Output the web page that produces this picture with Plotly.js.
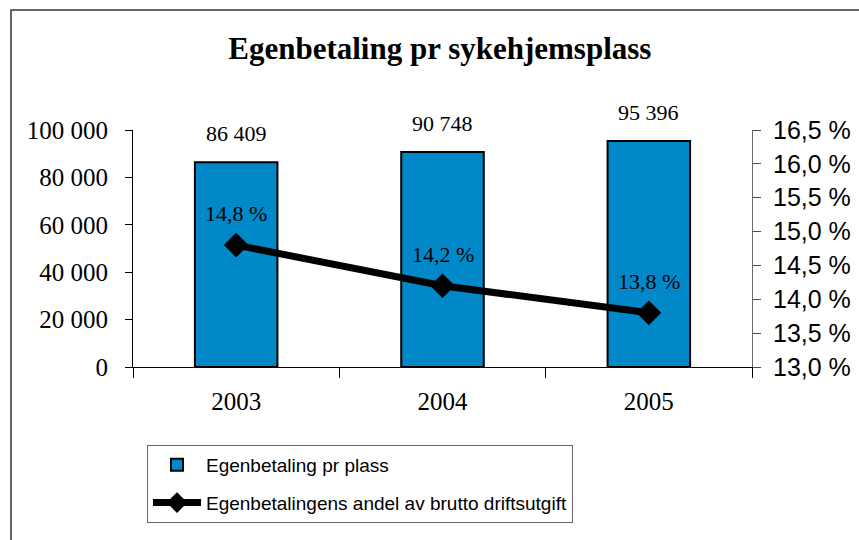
<!DOCTYPE html>
<html>
<head>
<meta charset="utf-8">
<script src="https://cdn.plot.ly/plotly-3.0.1.min.js"></script>
<style>
html,body{margin:0;padding:0;background:#fff;}
#chart{width:859px;height:540px;}
</style>
</head>
<body>
<div id="chart"></div>
<script>
const years = ['2003', '2004', '2005'];
const payment = [86409, 90748, 95396];
const share = [14.8, 14.2, 13.8];
const barName = 'Egenbetaling pr plass';
const lineName = 'Egenbetalingens andel av brutto driftsutgift';
const titleText = 'Egenbetaling pr sykehjemsplass';

const serif = 'Liberation Serif, Times New Roman, serif';
const sans = 'Liberation Sans, Arial, sans-serif';

const barTrace = {
  type: 'bar', x: years, y: payment, name: barName,
  marker: {color: '#0088C8', line: {color: '#000', width: 2}},
  width: 0.4, legendgroup: 'a', hoverinfo: 'skip'
};
const lineTrace = {
  type: 'scatter', mode: 'lines+markers', x: years, y: share, yaxis: 'y2',
  name: lineName, legendgroup: 'b',
  line: {color: '#000', width: 7},
  marker: {symbol: 'diamond', size: 19, color: '#000'},
  hoverinfo: 'skip'
};

// category index positions (numbers) so the category axis is not stretched
const barLabels = years.map((yr, i) => ({
  x: i, y: payment[i], xref: 'x', yref: 'y',
  text: payment[i].toLocaleString('en-US').replace(/,/g, ' '),
  showarrow: false, yanchor: 'bottom', yshift: 14,
  font: {family: serif, size: 22, color: '#000'}
}));
const lineLabels = years.map((yr, i) => ({
  x: i, y: share[i], xref: 'x', yref: 'y2',
  text: share[i].toFixed(1).replace('.', ',') + ' %',
  showarrow: false, yanchor: 'bottom', yshift: 17,
  font: {family: serif, size: 22, color: '#000'}
}));

const layout = {
  width: 859, height: 540,
  margin: {l: 133, r: 107, t: 130, b: 173},
  paper_bgcolor: '#fff', plot_bgcolor: 'rgba(0,0,0,0)',
  separators: ', ',
  showlegend: true,
  title: {text: '<b>' + titleText + '</b>', font: {family: serif, size: 31, color: '#000'},
          x: 0.512, xanchor: 'center', y: 1 - 48/540, yanchor: 'middle'},
  xaxis: {
    type: 'category', showline: true, linecolor: '#000', linewidth: 1,
    ticks: 'outside', ticklen: 10, tickcolor: '#000', tickson: 'boundaries',
    tickfont: {family: serif, size: 25, color: '#000'},
    showgrid: false, zeroline: false, ticklabelstandoff: 12
  },
  xaxis2: {
    overlaying: 'x', range: [-0.5, 2.5], tickvals: [0.5, 1.5], showticklabels: false,
    ticks: 'inside', ticklen: 7, tickcolor: '#000', showline: false,
    showgrid: false, zeroline: false, side: 'bottom'
  },
  yaxis: {
    range: [0, 100000], dtick: 20000, tickformat: ',d',
    showline: true, linecolor: '#000', linewidth: 1,
    ticks: 'outside', ticklen: 7, tickcolor: '#000',
    tickfont: {family: serif, size: 25, color: '#000'},
    showgrid: false, zeroline: false, ticklabelstandoff: 12
  },
  yaxis3: {
    overlaying: 'y', range: [0, 100000], dtick: 20000, showticklabels: false,
    ticks: 'inside', ticklen: 8, tickcolor: '#000', showline: false,
    showgrid: false, zeroline: false, side: 'left'
  },
  yaxis2: {
    overlaying: 'y', side: 'right', range: [13, 16.5], dtick: 0.5,
    tickformat: '.1f', ticksuffix: ' %',
    showline: true, linecolor: '#6a6a6a', linewidth: 1,
    ticks: 'outside', ticklen: 8, tickcolor: '#4a4a4a',
    tickfont: {family: sans, size: 25, color: '#000'},
    showgrid: false, zeroline: false, ticklabelstandoff: 7
  },
  yaxis4: {
    overlaying: 'y', side: 'right', range: [13, 16.5], dtick: 0.5, showticklabels: false,
    ticks: 'inside', ticklen: 8, tickcolor: '#4a4a4a', showline: false,
    showgrid: false, zeroline: false
  },
  legend: {
    x: (147 - 133) / 619, y: (367 - 445) / 237, xanchor: 'left', yanchor: 'top',
    bordercolor: '#666', borderwidth: 1, bgcolor: '#fff',
    font: {family: sans, size: 19, color: '#000'},
    traceorder: 'grouped', tracegroupgap: 10, itemwidth: 48
  },
  annotations: barLabels.concat(lineLabels),
  shapes: [{
    type: 'rect', xref: 'paper', yref: 'paper',
    x0: (11 - 133) / 619, x1: 1.5, y0: -1.2, y1: (367 - 10) / 237,
    line: {color: '#333', width: 1.5}, layer: 'below'
  }]
};

Plotly.newPlot('chart', [barTrace, lineTrace], layout, {displayModeBar: false, staticPlot: true});
</script>
</body>
</html>
